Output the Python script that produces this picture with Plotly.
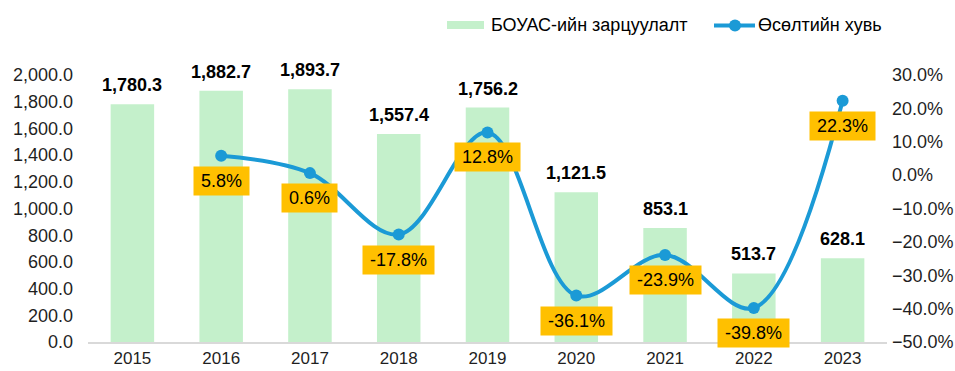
import plotly.graph_objects as go

years = [2015, 2016, 2017, 2018, 2019, 2020, 2021, 2022, 2023]
spending = [1780.3, 1882.7, 1893.7, 1557.4, 1756.2, 1121.5, 853.1, 513.7, 628.1]
growth_years = [2016, 2017, 2018, 2019, 2020, 2021, 2022, 2023]
growth = [5.8, 0.6, -17.8, 12.8, -36.1, -23.9, -39.8, 22.3]
bar_name = "БОУАС-ийн зарцуулалт"
line_name = "Өсөлтийн хувь"

FONT = "Liberation Sans, Arial, sans-serif"
FS = 18
BAR_COLOR = "#C4F0CB"
LINE_COLOR = "#1B9AD6"
LABEL_BG = "#FFC000"
TICK_COLOR = "#1F1F1F"

W, H = 955, 371
ML, MR, MT, MB = 88, 68, 75, 29
PW, PH = W - ML - MR, H - MT - MB


def px(x):
    return (x - ML) / PW


def py(y):
    return (H - MB - y) / PH


# approximate Arial advance widths (em) for sizing the label boxes
ADV = {".": 0.278, "%": 0.889, "-": 0.333}


def text_width(s, size):
    return sum(ADV.get(c, 0.556) for c in s) * size


fig = go.Figure()

fig.add_trace(go.Bar(
    x=years, y=spending, name=bar_name,
    marker=dict(color=BAR_COLOR, line=dict(width=0)),
    width=0.49,
    showlegend=False,
    hoverinfo="x+y",
))

fig.add_trace(go.Scatter(
    x=growth_years, y=growth, name=line_name, yaxis="y2",
    mode="lines+markers",
    line=dict(color=LINE_COLOR, width=4, shape="spline", smoothing=1.0),
    marker=dict(color=LINE_COLOR, size=12),
    cliponaxis=False,
    showlegend=False,
))

# bold value labels above the bars
for x, v in zip(years, spending):
    fig.add_annotation(
        x=x, y=v, xref="x", yref="y",
        text=f"<b>{v:,.1f}</b>", showarrow=False,
        yanchor="middle", yshift=19,
        font=dict(family=FONT, size=FS, color="#000000"),
    )

# percentage labels in yellow boxes under each point
for x, v in zip(growth_years, growth):
    s = f"{v:.1f}%"
    fig.add_annotation(
        x=x, y=v, xref="x", yref="y2",
        text=s, showarrow=False,
        yanchor="middle", yshift=-25,
        width=text_width(s, FS) + 14, height=28,
        bgcolor=LABEL_BG, borderpad=0,
        font=dict(family=FONT, size=FS, color="#000000"),
    )

# legend drawn by hand: wide bar swatch and line-with-marker swatch
shapes = [
    dict(type="rect", xref="paper", yref="paper",
         x0=px(447), x1=px(484), y0=py(29), y1=py(21),
         fillcolor=BAR_COLOR, line=dict(width=0)),
    dict(type="line", xref="paper", yref="paper",
         x0=px(714), x1=px(755), y0=py(25.5), y1=py(25.5),
         line=dict(color=LINE_COLOR, width=4)),
    dict(type="circle", xref="paper", yref="paper",
         x0=px(729), x1=px(741), y0=py(31.5), y1=py(19.5),
         fillcolor=LINE_COLOR, line=dict(width=0)),
]
fig.add_annotation(x=px(489), y=py(25), xref="paper", yref="paper",
                   text=bar_name, showarrow=False, xanchor="left", yanchor="middle",
                   font=dict(family=FONT, size=FS, color="#000000"))
fig.add_annotation(x=px(756), y=py(25), xref="paper", yref="paper",
                   text=line_name, showarrow=False, xanchor="left", yanchor="middle",
                   font=dict(family=FONT, size=FS, color="#000000"))

fig.update_layout(
    width=W, height=H,
    margin=dict(l=ML, r=MR, t=MT, b=MB, autoexpand=False),
    paper_bgcolor="white", plot_bgcolor="white",
    font=dict(family=FONT, size=FS, color=TICK_COLOR),
    showlegend=False,
    shapes=shapes,
    xaxis=dict(
        range=[2014.5, 2023.5], tickmode="array", tickvals=years,
        ticktext=[str(y) for y in years],
        showgrid=False, showline=True, zeroline=False,
        linecolor="#D9D9D9", linewidth=1.5, ticks="",
        tickfont=dict(family=FONT, size=17, color=TICK_COLOR),
        ticklabelstandoff=0, automargin=False,
    ),
    yaxis=dict(
        range=[0, 2000], dtick=200, tickformat=",.1f",
        showgrid=False, zeroline=False, showline=False,
        tickfont=dict(family=FONT, size=FS, color=TICK_COLOR),
        ticklabelstandoff=14, automargin=False,
    ),
    yaxis2=dict(
        range=[-50, 30], dtick=10, tickformat=".1f", ticksuffix="%",
        overlaying="y", side="right",
        showgrid=False, zeroline=False, showline=False,
        tickfont=dict(family=FONT, size=FS, color=TICK_COLOR),
        ticklabelstandoff=4, automargin=False,
    ),
)

fig.write_html("out.html")
